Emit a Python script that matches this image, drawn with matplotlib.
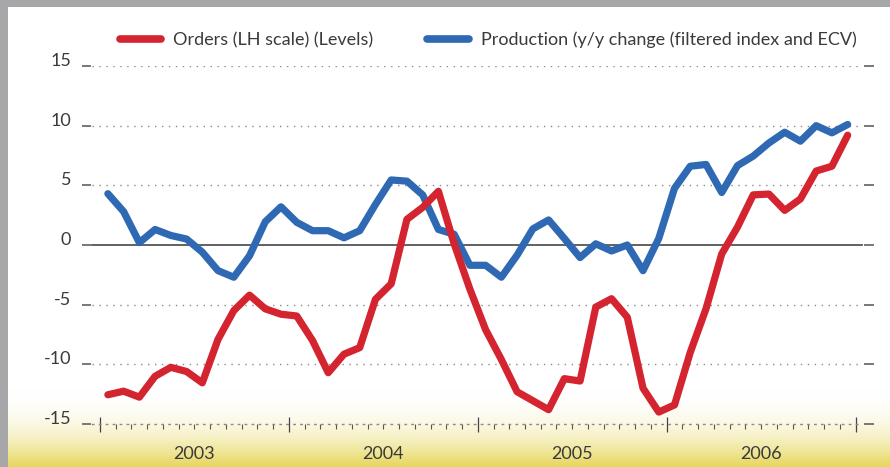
import matplotlib
matplotlib.use("Agg")
import matplotlib.pyplot as plt
import matplotlib.transforms as mtransforms
import numpy as np

# ---------------- data ----------------
years = ["2003", "2004", "2005", "2006"]
months_per_year = 12

orders = [-12.55, -12.25, -12.75, -11.0, -10.25, -10.6, -11.55, -7.9, -5.5, -4.2, -5.35, -5.8,
          -5.95, -8.0, -10.7, -9.15, -8.6, -4.55, -3.25, 2.15, 3.15, 4.5, 0.1, -3.7,
          -7.1, -9.6, -12.3, -13.05, -13.8, -11.2, -11.4, -5.2, -4.5, -6.05, -12.0, -14.0,
          -13.4, -9.0, -5.35, -0.75, 1.5, 4.2, 4.27, 2.9, 3.86, 6.2, 6.6, 9.2]

production = [4.3, 2.8, 0.2, 1.3, 0.8, 0.5, -0.6, -2.15, -2.7, -0.9, 1.95, 3.2,
              1.9, 1.2, 1.2, 0.6, 1.2, 3.4, 5.45, 5.35, 4.2, 1.3, 0.9, -1.7,
              -1.7, -2.7, -0.85, 1.35, 2.1, 0.55, -1.05, 0.1, -0.5, 0.0, -2.15, 0.55,
              4.75, 6.6, 6.75, 4.4, 6.65, 7.45, 8.55, 9.45, 8.7, 10.0, 9.4, 10.1]

yticks = [15, 10, 5, 0, -5, -10, -15]
ytick_labels = ["15", "10", "5", "0", "-5", "-10", "-15"]

legend_labels = ["Orders (LH scale) (Levels)",
                 "Production (y/y change (filtered index and ECV)"]

# ---------------- style ----------------
W, H = 890, 467
RED = "#d42430"
BLUE = "#2f69b3"
TXT = "#3a3a3a"
FONT = ["Lato", "DejaVu Sans"]
FS = 13
FW = "normal"

plt.rcParams['font.family'] = FONT
plt.rcParams['font.weight'] = FW

fig = plt.figure(figsize=(W / 100, H / 100), dpi=100)
fig.patch.set_facecolor("#a7a7a9")

# white panel
panel = plt.Rectangle((8 / W, 0), 1 - 8 / W, 1 - 7 / H, transform=fig.transFigure,
                      facecolor="white", edgecolor="none", zorder=-10)
fig.patches.append(panel)

# yellow gradient at bottom
gtop = 388
gax = fig.add_axes([8 / W, 0, 1 - 8 / W, (H - gtop) / H], zorder=-5)
gax.set_axis_off()
t = np.linspace(0, 1, 200) ** 2.2
white = np.array([1.0, 1.0, 1.0])
yellow = np.array([230, 214, 90]) / 255.0
grad = white[None, :] * (1 - t[:, None]) + yellow[None, :] * t[:, None]
gax.imshow(grad[:, None, :], aspect="auto", extent=[0, 1, 0, 1], origin="upper")
gax.set_xlim(0, 1)
gax.set_ylim(0, 1)

# main axes: x from px 92 to 860, y from px 66 (15) to 424 (-15)
ax_l, ax_r = 92, 860
ax_t, ax_b = 66, 424
ax = fig.add_axes([ax_l / W, 1 - ax_b / H, (ax_r - ax_l) / W, (ax_b - ax_t) / H], zorder=1)
ax.patch.set_alpha(0)

mpx = 15.74  # pixels per month
x0 = -(100 - ax_l) / mpx
x1 = x0 + (ax_r - ax_l) / mpx
ax.set_xlim(x0, x1)
ax.set_ylim(-15, 15)

n = len(orders)
x = np.arange(n) + 0.5

# gridlines (dotted)
for v in yticks:
    if v == 0:
        ax.plot([x0, x1 + 2 / mpx], [0, 0], color="#555555", lw=1.3, zorder=2, clip_on=False)
    elif v != -15:
        ax.plot([x0, x1 - 2 / mpx], [v, v], color="#8a8a8a", lw=1.0,
                linestyle=(0, (1, 4)), zorder=1)

# bottom axis (dotted baseline)
for s in ["top", "right", "left"]:
    ax.spines[s].set_visible(False)
ax.spines["bottom"].set_linestyle((0, (1, 4)))
ax.spines["bottom"].set_color("#8a8a8a")
ax.spines["bottom"].set_linewidth(1.0)

# x ticks
major = np.arange(0, n + 1, months_per_year)
minor = np.arange(0, n + 1)
ax.set_xticks(major)
ax.set_xticks(minor, minor=True)
ax.set_xticklabels([])
ax.tick_params(axis="x", which="major", direction="inout", length=10.8, width=0.9, color="#444444")
ax.tick_params(axis="x", which="minor", direction="out", length=3.6, width=0.8, color="#555555")

# year labels
for i, yr in enumerate(years):
    ax.text(i * months_per_year + months_per_year / 2, -15 - 35 / 11.93, yr,
            ha="center", va="baseline", fontsize=FS, color=TXT, fontweight=FW)

# y ticks as detached dashes + labels
ax.set_yticks(yticks)
ax.set_yticklabels(ytick_labels, fontweight=FW)
ax.tick_params(axis="y", which="both", length=0, pad=21 / 1.389, labelsize=FS, labelcolor=TXT)
for lab in ax.get_yticklabels():
    lab.set_verticalalignment("baseline")
trans = mtransforms.blended_transform_factory(ax.transAxes, ax.transData)
wpx = ax_r - ax_l
for v in yticks:
    ax.plot([(83 - ax_l) / wpx, (90 - ax_l) / wpx], [v, v], color="#777777", lw=1.4,
            transform=trans, clip_on=False)
    ax.plot([(865 - ax_l) / wpx, (873 - ax_l) / wpx], [v, v], color="#777777", lw=1.4,
            transform=trans, clip_on=False)

# series
l1, = ax.plot(x, orders, color=RED, lw=5.2, solid_capstyle="round", solid_joinstyle="round",
              zorder=4, clip_on=False, label=legend_labels[0])
l2, = ax.plot(x, production, color=BLUE, lw=5.2, solid_capstyle="round", solid_joinstyle="round",
              zorder=3, clip_on=False, label=legend_labels[1])

leg = fig.legend(handles=[l1, l2], loc="center", bbox_to_anchor=(488 / W, 1 - 40 / H),
                 ncol=2, frameon=False, handlelength=2.3, handletextpad=0.65,
                 columnspacing=3.0, borderpad=0, borderaxespad=0,
                 prop={"family": FONT, "weight": FW, "size": FS})
for txt in leg.get_texts():
    txt.set_color(TXT)
for h in leg.get_lines():
    h.set_linewidth(5.5)
    h.set_solid_capstyle("round")

fig.savefig("out.png", dpi=100, facecolor=fig.get_facecolor())
